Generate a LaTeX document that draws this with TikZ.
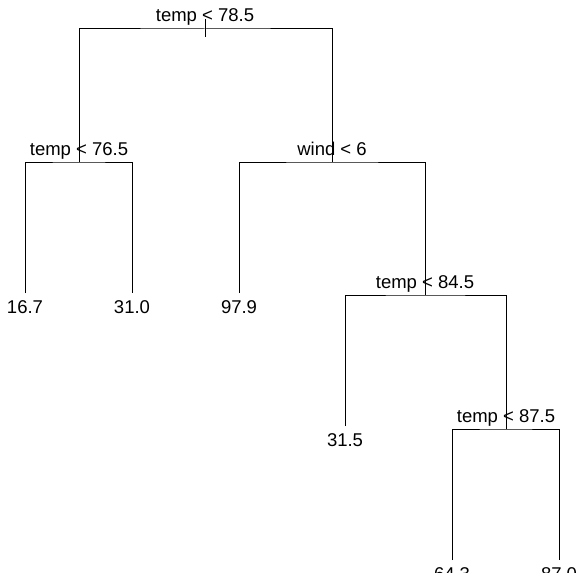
\documentclass[tikz,border=0pt]{standalone}
\usepackage{fontspec}
\setmainfont{Liberation Sans}

\begin{document}
\begin{tikzpicture}[x=1pt, y=-1pt, line width=1pt,
        split/.style={anchor=base, yshift=7pt, inner sep=0pt, font=\fontsize{18.5}{22}\selectfont},
        leaf/.style={anchor=north, inner xsep=0pt, inner ysep=7pt, font=\fontsize{18.5}{22}\selectfont}]
        % Keep the plot region
        \clip (0,0) rectangle (577,572);

        % Split points of the tree
        \coordinate (root) at (205,29);
        \coordinate (t765) at (79,162);
        \coordinate (w6) at (332,162);
        \coordinate (t845) at (425,295);
        \coordinate (t875) at (506,429);

        % Split labels
        \node[split] at (root) {temp < 78.5};
        \node[split] at (t765) {temp < 76.5};
        \node[split] at (w6) {wind < 6};
        \node[split] at (t845) {temp < 84.5};
        \node[split] at (t875) {temp < 87.5};

        % Leaves
        \node[leaf] (l167) at (25,293) {16.7};
        \node[leaf] (l310) at (132,293) {31.0};
        \node[leaf] (l979) at (239,293) {97.9};
        \node[leaf] (l315) at (345,426) {31.5};
        \node[leaf] (l643) at (452,560) {64.3};
        \node[leaf] (l870) at (559,560) {87.0};

        % Branches
        \draw ([yshift=10pt]root) -- ([yshift=-8pt]root); % root stem
        \draw (t765) |- (root) -| (w6);
        \draw (l167) |- (t765) -| (l310);
        \draw (l979) |- (w6) -| (t845);
        \draw (l315) |- (t845) -| (t875);
        \draw (l643) |- (t875) -| (l870);
    \end{tikzpicture}
\end{document}
